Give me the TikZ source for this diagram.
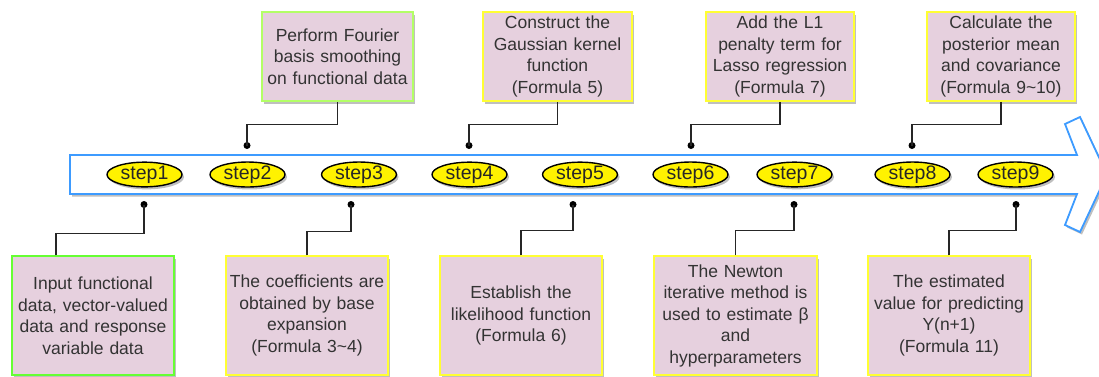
\documentclass[tikz,border=0pt]{standalone}
\usepackage{fontspec}
\setmainfont{Liberation Sans}
\usetikzlibrary{shapes.geometric,shadows}

\definecolor{boxfill}{HTML}{E6D0DE}
\definecolor{edgeyellow}{HTML}{FFFF33}
\definecolor{edgelime}{HTML}{B3FF66}
\definecolor{edgegreen}{HTML}{66FF33}
\definecolor{arrowblue}{HTML}{3D9BFF}
\definecolor{textgray}{HTML}{333333}

\tikzset{
  softshadow/.style={drop shadow={shadow xshift=2pt,shadow yshift=-2.5pt,opacity=0.25,fill=black}},
  infobox/.style={rectangle, fill=boxfill, draw=edgeyellow, line width=1.5pt,
    text=textgray, align=center, inner sep=3pt, softshadow,
    font=\fontsize{17.5}{21.5}\selectfont},
  stepnode/.style={ellipse, fill=yellow, draw=black, line width=1.4pt,
    minimum width=75pt, minimum height=23pt, inner sep=0pt, softshadow,
    text=black!85, font=\fontsize{19.5}{20}\selectfont},
  pin/.style={circle, fill=black, inner sep=0pt, minimum size=7pt},
  conn/.style={draw=black!85, line width=1.5pt}
}

\begin{document}
\begin{tikzpicture}[x=1pt,y=-1pt]
\useasboundingbox (0,0) rectangle (1099,376);
\clip (0,0) rectangle (1099,376);

% timeline arrow
\path[fill=white, draw=arrowblue, line width=1.8pt, line join=miter, softshadow]
  (70,155) -- (1077,155) -- (1065,124) -- (1080,117) -- (1107,174.5)
  -- (1080,232) -- (1065,225) -- (1077,194) -- (70,194) -- cycle;

% steps on the timeline
\node[stepnode] (s1) at (144.5,174.5) {step1};
\node[stepnode] (s2) at (247.5,174.5) {step2};
\node[stepnode] (s3) at (359,174.5) {step3};
\node[stepnode] (s4) at (469.5,174.5) {step4};
\node[stepnode] (s5) at (580,174.5) {step5};
\node[stepnode] (s6) at (690.5,174.5) {step6};
\node[stepnode] (s7) at (794.5,174.5) {step7};
\node[stepnode] (s8) at (912.5,174.5) {step8};
\node[stepnode] (s9) at (1015.5,174.5) {step9};

% upper descriptions
\node[infobox, draw=edgelime, minimum width=151pt, minimum height=89pt, text width=145pt]
  (t2) at (337.5,56.5) {Perform Fourier\\basis smoothing\\on functional data};
\node[infobox, minimum width=149pt, minimum height=89pt, text width=143pt]
  (t4) at (557.5,56.5) {Construct the\\Gaussian kernel\\function\\(Formula 5)};
\node[infobox, minimum width=148pt, minimum height=89pt, text width=142pt]
  (t6) at (780,56.5) {Add the L1\\penalty term for\\Lasso regression\\(Formula 7)};
\node[infobox, minimum width=148pt, minimum height=89pt, text width=142pt]
  (t8) at (1001,56.5) {Calculate the\\posterior mean\\and covariance\\(Formula 9\textasciitilde 10)};

% lower descriptions
\node[infobox, draw=edgegreen, minimum width=162pt, minimum height=119pt, text width=156pt]
  (b1) at (93,315.5) {Input functional\\data, vector-valued\\data and response\\variable data};
\node[infobox, minimum width=162pt, minimum height=119pt, text width=156pt]
  (b3) at (307,315.5) {The coefficients are\\obtained by base\\expansion\\(Formula 3\textasciitilde 4)};
\node[infobox, minimum width=162pt, minimum height=119pt, text width=156pt]
  (b5) at (521,315.5) {Establish the\\likelihood function\\(Formula 6)};
\node[infobox, minimum width=163pt, minimum height=119pt, text width=157pt]
  (b7) at (735.5,315.5) {The Newton\\iterative method is\\used to estimate β\\and\\hyperparameters};
\node[infobox, minimum width=162pt, minimum height=119pt, text width=156pt]
  (b9) at (949,315.5) {The estimated\\value for predicting\\Y(n+1)\\(Formula 11)};

% pins above and below the timeline
\node[pin] (p2) at (247,145.5) {};
\node[pin] (p4) at (469,145.5) {};
\node[pin] (p6) at (691,145.5) {};
\node[pin] (p8) at (912,145.5) {};
\node[pin] (p1) at (144,204.5) {};
\node[pin] (p3) at (351,204.5) {};
\node[pin] (p5) at (573,204.5) {};
\node[pin] (p7) at (794,204.5) {};
\node[pin] (p9) at (1016,204.5) {};

% elbow connectors
\draw[conn] (t2.south) -- ++(0,22.5) -| (p2.center);
\draw[conn] (t4.south) -- ++(0,22.5) -| (p4.center);
\draw[conn] (t6.south) -- ++(0,22.5) -| (p6.center);
\draw[conn] (t8.south) -- ++(0,22.5) -| (p8.center);
\draw[conn] ([xshift=-37pt]b1.north) -- ++(0,-22) -| (p1.center);
\draw[conn] (b3.north) -- ++(0,-24) -| (p3.center);
\draw[conn] (b5.north) -- ++(0,-25) -| (p5.center);
\draw[conn] (b7.north) -- ++(0,-25) -| (p7.center);
\draw[conn] (b9.north) -- ++(0,-25) -| (p9.center);
\end{tikzpicture}
\end{document}
